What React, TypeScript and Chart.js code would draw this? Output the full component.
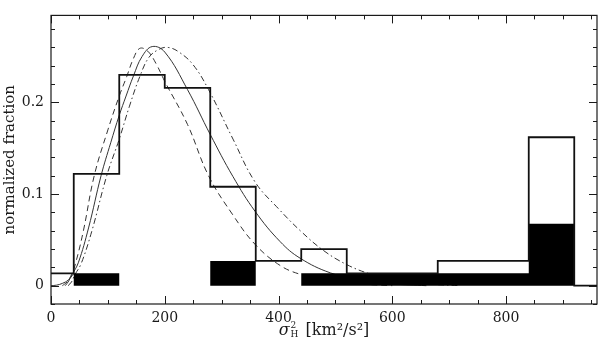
import React, { useEffect, useRef } from "react";
import { Chart, registerables } from "chart.js";

Chart.register(...registerables);

// Histogram bin edges (km^2/s^2) and the fraction in each bin (value at left edge)
const binEdges = [0, 40, 120, 200, 280, 360, 440, 520, 600, 680, 760, 840, 920, 960];
const totalFraction = [0.0135, 0.122, 0.23, 0.216, 0.108, 0.027, 0.04, 0.0135, 0.0135, 0.027, 0.027, 0.162, 0, 0];
const filledFraction = [0, 0.0135, 0, 0, 0.027, 0, 0.0135, 0.0135, 0.0135, 0.0135, 0.0135, 0.0675, 0, 0];

// Model curves
const solidX = [25, 30, 37, 48, 66, 88, 105, 120, 132, 145, 160, 178, 200, 240, 280, 320, 359, 403, 438, 491, 540, 600, 660];
const solidY = [0, 0.004, 0.012, 0.025, 0.063, 0.12, 0.156, 0.186, 0.207, 0.229, 0.25, 0.261, 0.255, 0.214, 0.165, 0.119, 0.081, 0.048, 0.03, 0.014, 0.007, 0.002, 0];

const dashedX = [20, 28, 36, 43, 57, 76, 100, 120, 133, 145, 156, 170, 185, 200, 240, 277, 320, 359, 403, 440, 480, 540, 600];
const dashedY = [0, 0.004, 0.012, 0.024, 0.06, 0.12, 0.17, 0.207, 0.228, 0.248, 0.259, 0.256, 0.242, 0.223, 0.176, 0.12, 0.077, 0.045, 0.022, 0.012, 0.006, 0.002, 0];

const dashDotX = [30, 36, 42, 53, 72, 98, 120, 138, 156, 172, 190, 206, 225, 250, 277, 320, 359, 400, 440, 480, 520, 560, 600, 660, 720];
const dashDotY = [0, 0.004, 0.012, 0.024, 0.06, 0.12, 0.16, 0.196, 0.228, 0.249, 0.258, 0.26, 0.255, 0.241, 0.214, 0.16, 0.113, 0.084, 0.059, 0.038, 0.023, 0.013, 0.007, 0.002, 0];

const lowX = [0, 10, 20, 30, 40];
const lowY = [0, 0.0006, 0.0025, 0.006, 0.013];

const xTickValues = [0, 200, 400, 600, 800];
const yTickValues = [0, 0.1, 0.2];

const FONT = "DejaVu Serif";
const INK = "#1a1a1a";

const pts = (xs: number[], ys: number[]) => xs.map((x, i) => ({ x, y: ys[i] }));

const frameTicksPlugin = {
  id: "frameTicks",
  afterDraw(chart: any) {
    const { ctx, chartArea: a, scales } = chart;
    const x = scales.x;
    const y = scales.y;
    ctx.save();
    ctx.strokeStyle = INK;
    ctx.lineWidth = 1.2;
    ctx.strokeRect(a.left, a.top, a.right - a.left, a.bottom - a.top);

    ctx.lineWidth = 1;
    ctx.beginPath();
    for (let v = 0; v <= x.max; v += 50) {
      const px = Math.round(x.getPixelForValue(v)) + 0.5;
      const len = v % 200 === 0 ? 8 : 4;
      ctx.moveTo(px, a.bottom);
      ctx.lineTo(px, a.bottom - len);
      ctx.moveTo(px, a.top);
      ctx.lineTo(px, a.top + len);
    }
    for (let k = -1; k <= 14; k++) {
      const v = k * 0.02;
      const py = Math.round(y.getPixelForValue(v)) + 0.5;
      const len = k % 5 === 0 ? 8 : 4;
      ctx.moveTo(a.left, py);
      ctx.lineTo(a.left + len, py);
      ctx.moveTo(a.right, py);
      ctx.lineTo(a.right - len, py);
    }
    ctx.stroke();

    // y title
    ctx.fillStyle = INK;
    ctx.save();
    ctx.translate(10, (a.top + a.bottom) / 2);
    ctx.rotate(-Math.PI / 2);
    ctx.font = `15px ${FONT}`;
    ctx.textAlign = "center";
    ctx.textBaseline = "middle";
    ctx.fillText("normalized fraction", 0, 0);
    ctx.restore();

    // x title: sigma^2_H [km²/s²]
    const base = 335;
    const sigFont = `italic 16px ${FONT}`;
    const smallFont = `9px ${FONT}`;
    const mainFont = `16px ${FONT}`;
    const rest = " [km²/s²]";
    ctx.font = sigFont;
    const wSig = ctx.measureText("σ").width;
    ctx.font = smallFont;
    const wSmall = Math.max(ctx.measureText("2").width, ctx.measureText("H").width);
    ctx.font = mainFont;
    const wRest = ctx.measureText(rest).width;
    const total = wSig + 1 + wSmall + 2 + wRest;
    let cx = (a.left + a.right) / 2 - total / 2;
    ctx.textAlign = "left";
    ctx.textBaseline = "alphabetic";
    ctx.font = sigFont;
    ctx.fillText("σ", cx, base);
    cx += wSig + 1;
    ctx.font = smallFont;
    ctx.fillText("2", cx, base - 7);
    ctx.fillText("H", cx, base + 2);
    cx += wSmall + 2;
    ctx.font = mainFont;
    ctx.fillText(rest, cx, base);
    ctx.restore();
  },
};

export default function App() {
  const canvasRef = useRef<HTMLCanvasElement | null>(null);

  useEffect(() => {
    document.body.style.margin = "0";
    const canvas = canvasRef.current;
    if (!canvas) return;
    const curve = (xs: number[], ys: number[], dash: number[]) => ({
      type: "line" as const,
      data: pts(xs, ys),
      borderColor: "#333",
      borderWidth: 1,
      borderDash: dash,
      pointRadius: 0,
      fill: false,
      tension: 0.4,
      order: 2,
    });
    const chart = new Chart(canvas, {
      type: "line",
      data: {
        datasets: [
          {
            data: pts(binEdges, totalFraction),
            stepped: "before",
            borderColor: "#111",
            borderWidth: 1.8,
            pointRadius: 0,
            fill: false,
            order: 0,
          },
          {
            data: pts(binEdges, filledFraction),
            stepped: "before",
            borderColor: "#000",
            borderWidth: 0,
            backgroundColor: "#000",
            pointRadius: 0,
            fill: "origin",
            order: 1,
          },
          curve(solidX, solidY, []),
          curve(dashedX, dashedY, [6, 4]),
          curve(dashDotX, dashDotY, [6, 3, 1.5, 3]),
          curve(lowX, lowY, []),
        ] as any,
      },
      options: {
        animation: false,
        responsive: false,
        events: [],
        layout: { padding: { top: 5, right: 3, left: 0, bottom: 0 } },
        plugins: { legend: { display: false }, tooltip: { enabled: false } },
        scales: {
          x: {
            type: "linear",
            min: 0,
            max: 960,
            grid: { display: false, drawTicks: false },
            border: { display: false },
            afterBuildTicks: (s: any) => {
              s.ticks = xTickValues.map((v) => ({ value: v }));
            },
            afterFit: (s: any) => {
              s.height = 42;
            },
            ticks: {
              font: { family: FONT, size: 14 },
              color: INK,
              padding: 6,
              maxRotation: 0,
              callback: (v: any) => String(v),
            },
          },
          y: {
            type: "linear",
            min: -0.02,
            max: 0.295,
            grid: { display: false, drawTicks: false },
            border: { display: false },
            afterBuildTicks: (s: any) => {
              s.ticks = yTickValues.map((v) => ({ value: v }));
            },
            afterFit: (s: any) => {
              s.width = 51;
            },
            ticks: {
              font: { family: FONT, size: 14 },
              color: INK,
              padding: 7,
              callback: (v: any) => String(v),
            },
          },
        },
      },
      plugins: [frameTicksPlugin],
    } as any);
    return () => chart.destroy();
  }, []);

  return (
    <div style={{ width: 600, height: 346 }}>
      <canvas ref={canvasRef} width={600} height={346} style={{ display: "block" }} />
    </div>
  );
}
